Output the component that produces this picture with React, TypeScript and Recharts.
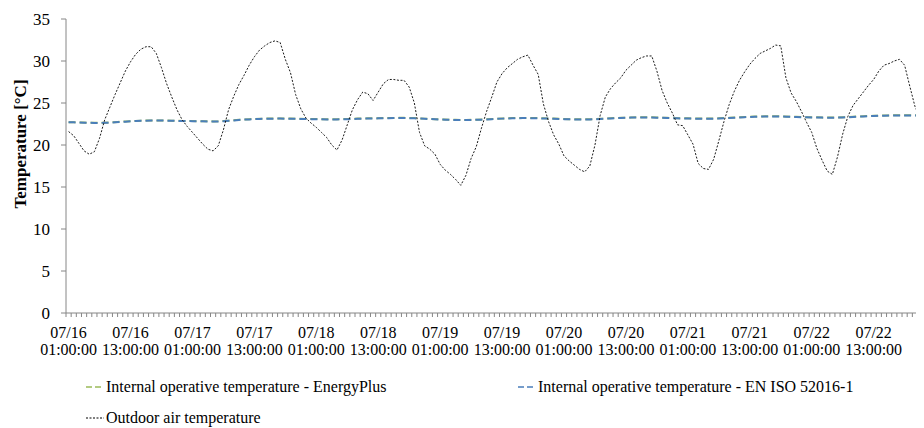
import { LineChart, Line, XAxis, YAxis } from 'recharts';

// hourly values, 07/16 01:00 -> 07/22 24:00
const outdoor = [
  21.6, 21.1, 20.2, 19.3, 18.9, 19.2, 20.8, 23.0, 24.5, 26.0, 27.4, 28.8,
  29.9, 30.8, 31.4, 31.7, 31.7, 30.9, 29.2, 27.3, 25.7, 24.2, 23.0, 22.2,
  21.5, 20.8, 20.1, 19.5, 19.3, 19.9, 21.8, 24.2, 25.8, 27.2, 28.3, 29.5,
  30.5, 31.3, 31.8, 32.2, 32.4, 32.2, 30.2, 28.6, 26.0, 24.3, 23.2, 22.6,
  22.1, 21.5, 20.9, 20.0, 19.4, 20.6, 22.4, 24.2, 25.4, 26.3, 26.1, 25.3,
  26.3, 27.3, 27.8, 27.8, 27.7, 27.7, 26.9, 25.0, 21.5, 19.9, 19.5, 18.9,
  17.7, 17.0, 16.5, 15.9, 15.2, 16.4, 18.4, 19.8, 22.0, 24.0, 25.7, 27.5,
  28.5, 29.2, 29.7, 30.2, 30.5, 30.7, 29.5, 28.4, 24.9, 22.8, 21.2, 20.1,
  18.7, 18.1, 17.6, 17.1, 16.8, 17.5, 20.0, 23.5, 25.7, 26.7, 27.4, 28.0,
  28.9, 29.5, 30.1, 30.4, 30.6, 30.6, 28.8, 26.5, 25.0, 23.8, 22.4, 22.3,
  21.2, 20.1, 17.8, 17.2, 17.1, 18.3, 20.5, 22.8, 24.8, 26.4, 27.7, 28.7,
  29.6, 30.3, 30.9, 31.2, 31.5, 31.9, 31.8, 28.0, 26.2, 25.2, 24.0, 22.7,
  21.5, 19.6, 18.2, 16.9, 16.5, 18.6, 21.3, 23.4, 24.7, 25.5, 26.3, 27.1,
  27.8, 28.8, 29.5, 29.7, 30.0, 30.2, 29.5, 27.0, 24.6, 23.2, 22.3, 21.7,
];

const energyPlus = [
  22.72, 22.71, 22.69, 22.67, 22.65, 22.64, 22.64, 22.65, 22.68, 22.72, 22.76, 22.8,
  22.84, 22.87, 22.9, 22.92, 22.93, 22.93, 22.92, 22.91, 22.89, 22.88, 22.87, 22.86,
  22.85, 22.84, 22.83, 22.82, 22.81, 22.82, 22.85, 22.9, 22.95, 23.0, 23.04, 23.07,
  23.1, 23.12, 23.14, 23.15, 23.16, 23.16, 23.15, 23.14, 23.13, 23.12, 23.11, 23.1,
  23.09, 23.08, 23.07, 23.07, 23.07, 23.08, 23.1, 23.12, 23.14, 23.16, 23.17, 23.18,
  23.19, 23.2, 23.21, 23.22, 23.23, 23.23, 23.22, 23.2, 23.17, 23.14, 23.11, 23.08,
  23.05, 23.03, 23.01, 23.0, 22.99, 22.99, 23.0, 23.02, 23.04, 23.07, 23.1, 23.13,
  23.16, 23.18, 23.2, 23.21, 23.22, 23.22, 23.21, 23.2, 23.18, 23.16, 23.14, 23.12,
  23.1, 23.08, 23.07, 23.06, 23.06, 23.07, 23.09, 23.12, 23.15, 23.18, 23.21, 23.24,
  23.26, 23.28, 23.29, 23.3, 23.3, 23.29, 23.27, 23.25, 23.23, 23.21, 23.19, 23.18,
  23.17, 23.16, 23.15, 23.14, 23.14, 23.15, 23.17, 23.2, 23.23, 23.27, 23.3, 23.33,
  23.36, 23.38, 23.4, 23.41, 23.42, 23.42, 23.41, 23.39, 23.37, 23.35, 23.33, 23.31,
  23.3, 23.29, 23.28, 23.27, 23.27, 23.28, 23.3, 23.33, 23.36, 23.39, 23.42, 23.45,
  23.47, 23.49, 23.51, 23.52, 23.53, 23.54, 23.54, 23.54, 23.53, 23.52, 23.52, 23.51,
];

const isoEN = [
  22.7, 22.7, 22.68, 22.66, 22.64, 22.63, 22.63, 22.64, 22.66, 22.7, 22.74, 22.78,
  22.82, 22.86, 22.88, 22.9, 22.92, 22.92, 22.91, 22.9, 22.88, 22.87, 22.86, 22.85,
  22.84, 22.83, 22.82, 22.81, 22.8, 22.81, 22.84, 22.88, 22.93, 22.98, 23.02, 23.05,
  23.08, 23.1, 23.12, 23.13, 23.14, 23.14, 23.13, 23.12, 23.11, 23.1, 23.09, 23.08,
  23.07, 23.06, 23.05, 23.05, 23.05, 23.06, 23.08, 23.1, 23.12, 23.14, 23.15, 23.16,
  23.17, 23.18, 23.19, 23.2, 23.21, 23.21, 23.2, 23.18, 23.15, 23.12, 23.09, 23.06,
  23.03, 23.01, 22.99, 22.98, 22.97, 22.97, 22.98, 23.0, 23.02, 23.05, 23.08, 23.11,
  23.14, 23.16, 23.18, 23.19, 23.2, 23.2, 23.19, 23.18, 23.16, 23.14, 23.12, 23.1,
  23.08, 23.06, 23.05, 23.04, 23.04, 23.05, 23.07, 23.1, 23.13, 23.16, 23.19, 23.22,
  23.24, 23.26, 23.27, 23.28, 23.28, 23.27, 23.25, 23.23, 23.21, 23.19, 23.17, 23.16,
  23.15, 23.14, 23.13, 23.12, 23.12, 23.13, 23.15, 23.18, 23.21, 23.25, 23.28, 23.31,
  23.34, 23.36, 23.38, 23.39, 23.4, 23.4, 23.39, 23.37, 23.35, 23.33, 23.31, 23.29,
  23.28, 23.27, 23.26, 23.25, 23.25, 23.26, 23.28, 23.31, 23.34, 23.37, 23.4, 23.43,
  23.45, 23.47, 23.49, 23.5, 23.51, 23.52, 23.52, 23.52, 23.51, 23.5, 23.5, 23.49,
];

// x labels, one every 12 hours
const labelDates = ['07/16', '07/16', '07/17', '07/17', '07/18', '07/18', '07/19', '07/19', '07/20', '07/20', '07/21', '07/21', '07/22', '07/22'];
const labelTimes = ['01:00:00', '13:00:00', '01:00:00', '13:00:00', '01:00:00', '13:00:00', '01:00:00', '13:00:00', '01:00:00', '13:00:00', '01:00:00', '13:00:00', '01:00:00', '13:00:00'];
const yTicks = [0, 5, 10, 15, 20, 25, 30, 35];

const N = outdoor.length;
const LABEL_EVERY = 12;

const W = 935;
const H = 420;
const Y_AXIS_W = 58;
const PLOT_W = 867;
const HALF_STEP = PLOT_W / N / 2;

const data = outdoor.map((v, i) => ({
  i,
  outdoor: v,
  energyPlus: energyPlus[i],
  iso: isoEN[i],
}));

// boundaries between hourly categories
const xTicks = Array.from({ length: N + 1 }, (_, k) => k - 0.5);

const FONT = 'Liberation Serif';
const AXIS = '#868686';

const HourTick = (props: any) => {
  const { x, y, payload } = props;
  const k = Math.round(payload.value + 0.5);
  const li = k / LABEL_EVERY;
  const showLabel = k % LABEL_EVERY === 0 && li < labelDates.length;
  return (
    <g>
      <line x1={x} y1={y} x2={x} y2={y + 4} stroke={AXIS} strokeWidth={1} />
      {showLabel && (
        <text x={x + HALF_STEP} y={y} textAnchor="middle" fill="#000" fontSize={16} fontFamily={FONT}>
          <tspan x={x + HALF_STEP} dy={25}>{labelDates[li]}</tspan>
          <tspan x={x + HALF_STEP} dy={17}>{labelTimes[li]}</tspan>
        </text>
      )}
    </g>
  );
};

const YTitle = () => (
  <text
    x={12}
    y={136}
    transform="rotate(-90, 12, 136)"
    textAnchor="middle"
    dominantBaseline="central"
    fontSize={17}
    fontWeight="bold"
    fontFamily={FONT}
    fill="#000"
  >
    Temperature [°C]
  </text>
);

const Swatch = ({ color, dash, width }: { color: string; dash: string; width: number }) => (
  <svg width={18} height={10} style={{ display: 'block' }}>
    <line x1={0} y1={5} x2={18} y2={5} stroke={color} strokeWidth={width} strokeDasharray={dash} />
  </svg>
);

const legendItems = [
  { name: 'Internal operative temperature - EnergyPlus', color: '#9BBB59', dash: '6 3', width: 1.5, left: 78, top: 370 },
  { name: 'Internal operative temperature - EN ISO 52016-1', color: '#4A7EBB', dash: '6 3', width: 1.5, left: 510, top: 370 },
  { name: 'Outdoor air temperature', color: '#000', dash: '2 1.5', width: 1, left: 78, top: 401 },
];

export default function App() {
  return (
    <div style={{ position: 'relative', width: 916, height: H, overflow: 'hidden', background: '#fff', fontFamily: FONT }}>
      <LineChart
        width={W}
        height={H}
        data={data}
        margin={{ top: 11, right: W - Y_AXIS_W - PLOT_W, left: 0, bottom: 55 }}
        style={{ fontFamily: FONT }}
      >
        <XAxis
          dataKey="i"
          type="number"
          domain={[-0.5, N - 0.5]}
          ticks={xTicks}
          interval={0}
          tick={<HourTick />}
          tickLine={false}
          tickSize={0}
          tickMargin={0}
          axisLine={{ stroke: AXIS }}
          height={60}
        />
        <YAxis
          domain={[0, 35]}
          ticks={yTicks}
          interval={0}
          width={Y_AXIS_W}
          tick={{ fill: '#000', fontSize: 17, fontFamily: FONT }}
          tickLine={{ stroke: AXIS }}
          tickSize={5}
          tickMargin={11}
          axisLine={{ stroke: AXIS }}
          label={{ content: () => <YTitle /> }}
        />
        <Line
          type="linear"
          dataKey="energyPlus"
          stroke="#9BBB59"
          strokeWidth={2}
          strokeDasharray="7 4"
          dot={false}
          isAnimationActive={false}
        />
        <Line
          type="linear"
          dataKey="iso"
          stroke="#4A7EBB"
          strokeWidth={2}
          strokeDasharray="7 4"
          dot={false}
          isAnimationActive={false}
        />
        <Line
          type="linear"
          dataKey="outdoor"
          stroke="#1a1a1a"
          strokeWidth={1}
          strokeDasharray="2 1.6"
          dot={false}
          isAnimationActive={false}
        />
      </LineChart>
      {legendItems.map((it) => (
        <div
          key={it.name}
          style={{
            position: 'absolute',
            left: it.left,
            top: it.top,
            display: 'flex',
            alignItems: 'center',
            fontSize: 16,
            lineHeight: '18px',
            color: '#000',
            whiteSpace: 'nowrap',
          }}
        >
          <Swatch color={it.color} dash={it.dash} width={it.width} />
          <span style={{ marginLeft: 2 }}>{it.name}</span>
        </div>
      ))}
    </div>
  );
}
